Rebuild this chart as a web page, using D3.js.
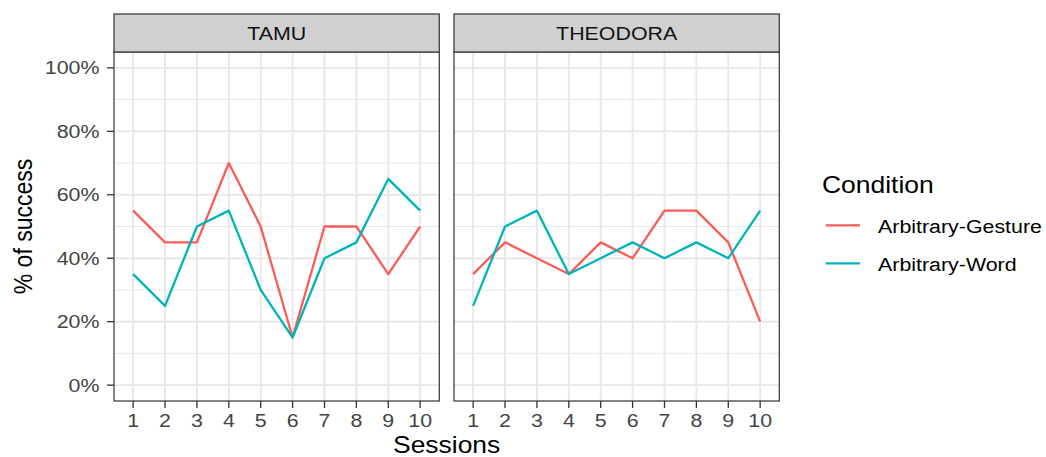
<!DOCTYPE html>
<html>
<head>
<meta charset="utf-8">
<script src="https://cdn.jsdelivr.net/npm/d3@7"></script>
<style>
  html,body{margin:0;padding:0;background:#fff;}
  svg{display:block;}
  text{font-family:"Liberation Sans",Arial,Helvetica,sans-serif;}
</style>
</head>
<body>
<div id="chart"></div>
<script>
// ---- data ----
const sessions = [1,2,3,4,5,6,7,8,9,10];
const facets = ["TAMU","THEODORA"];
const conditions = ["Arbitrary-Gesture","Arbitrary-Word"];
const tamuGesture     = [0.55,0.45,0.45,0.70,0.50,0.15,0.50,0.50,0.35,0.50];
const tamuWord        = [0.35,0.25,0.50,0.55,0.30,0.15,0.40,0.45,0.65,0.55];
const theodoraGesture = [0.35,0.45,0.40,0.35,0.45,0.40,0.55,0.55,0.45,0.20];
const theodoraWord    = [0.25,0.50,0.55,0.35,0.40,0.45,0.40,0.45,0.40,0.55];
const yTicks = [0,0.2,0.4,0.6,0.8,1.0];
const yMinor = [0.1,0.3,0.5,0.7,0.9];

const series = {
  "TAMU":     [tamuGesture, tamuWord],
  "THEODORA": [theodoraGesture, theodoraWord]
};
const COL = {"Arbitrary-Gesture":"#FA5C58","Arbitrary-Word":"#00B5B9"};

// ---- layout ----
const W=1046, H=457;
const SX=1.15;                 // source image is stretched horizontally
const panelX=[114,454], panelW=325.3;
const stripT=14, panelT=52, panelB=401;

const svg=d3.select("#chart").append("svg").attr("width",W).attr("height",H);

function stext(sel,x,y,str){
  return sel.append("text").attr("transform",`translate(${x},${y}) scale(${SX},1)`).text(str);
}

const y=d3.scaleLinear().domain([-0.05,1.05]).range([panelB,panelT]);
const line=d3.line();

facets.forEach((f,fi)=>{
  const x=d3.scaleLinear().domain([0.4,10.6]).range([panelX[fi],panelX[fi]+panelW]);
  const g=svg.append("g");

  // panel background
  g.append("rect").attr("x",panelX[fi]).attr("y",panelT).attr("width",panelW).attr("height",panelB-panelT).attr("fill","#fff");

  // grid
  g.selectAll(".ymin").data(yMinor).join("line")
    .attr("x1",panelX[fi]).attr("x2",panelX[fi]+panelW)
    .attr("y1",d=>y(d)).attr("y2",d=>y(d))
    .attr("stroke","#E8E8E8").attr("stroke-width",1);
  g.selectAll(".ymaj").data(yTicks).join("line")
    .attr("x1",panelX[fi]).attr("x2",panelX[fi]+panelW)
    .attr("y1",d=>y(d)).attr("y2",d=>y(d))
    .attr("stroke","#E8E8E8").attr("stroke-width",1.9);
  g.selectAll(".xmaj").data(sessions).join("line")
    .attr("x1",d=>x(d)).attr("x2",d=>x(d))
    .attr("y1",panelT).attr("y2",panelB)
    .attr("stroke","#E8E8E8").attr("stroke-width",1.9);

  // lines
  conditions.forEach((c,ci)=>{
    const vals=series[f][ci];
    g.append("path")
      .attr("d",line(sessions.map((s,i)=>[x(s),y(vals[i])])))
      .attr("fill","none").attr("stroke",COL[c]).attr("stroke-width",2.3)
      .attr("stroke-linejoin","round");
  });

  // panel border
  g.append("rect").attr("x",panelX[fi]).attr("y",panelT).attr("width",panelW).attr("height",panelB-panelT)
    .attr("fill","none").attr("stroke","#333").attr("stroke-width",1.2);

  // strip
  g.append("rect").attr("x",panelX[fi]).attr("y",stripT).attr("width",panelW).attr("height",panelT-stripT)
    .attr("fill","#D0D0D0").attr("stroke","#333").attr("stroke-width",1.2);
  stext(g,panelX[fi]+panelW/2,39.5,f)
    .attr("text-anchor","middle").attr("font-size",18.6).attr("fill","#111");

  // x axis
  const xa=g.append("g");
  xa.selectAll("line").data(sessions).join("line")
    .attr("x1",d=>x(d)).attr("x2",d=>x(d)).attr("y1",panelB).attr("y2",panelB+7)
    .attr("stroke","#333").attr("stroke-width",1.3);
  sessions.forEach(s=>{
    stext(xa,x(s),427,s).attr("text-anchor","middle").attr("font-size",18.6).attr("fill","#444");
  });

  // y axis (left panel only)
  if(fi===0){
    const ya=g.append("g");
    ya.selectAll("line").data(yTicks).join("line")
      .attr("x1",panelX[0]-7).attr("x2",panelX[0]).attr("y1",d=>y(d)).attr("y2",d=>y(d))
      .attr("stroke","#333").attr("stroke-width",1.3);
    yTicks.forEach(t=>{
      stext(ya,99.5,y(t)+6.6,d3.format(".0%")(t))
        .attr("text-anchor","end").attr("font-size",18.6).attr("fill","#444");
    });
  }
});

// axis titles
stext(svg,(panelX[0]+panelX[1]+panelW)/2,453,"Sessions")
  .attr("text-anchor","middle").attr("font-size",23).attr("fill","#000");
svg.append("text")
  .attr("transform",`translate(32,${(panelT+panelB)/2}) rotate(-90) scale(1,${SX})`)
  .attr("text-anchor","middle").attr("font-size",23).attr("fill","#000")
  .text("% of success");

// legend
const lg=svg.append("g");
stext(lg,822,192.5,"Condition").attr("font-size",23).attr("fill","#000");
conditions.forEach((c,i)=>{
  const ly=225.3+i*38;
  lg.append("line").attr("x1",825.7).attr("x2",860).attr("y1",ly).attr("y2",ly)
    .attr("stroke",COL[c]).attr("stroke-width",2.3);
  stext(lg,878,ly+8,c).attr("font-size",18.6).attr("fill","#000");
});
</script>
</body>
</html>
